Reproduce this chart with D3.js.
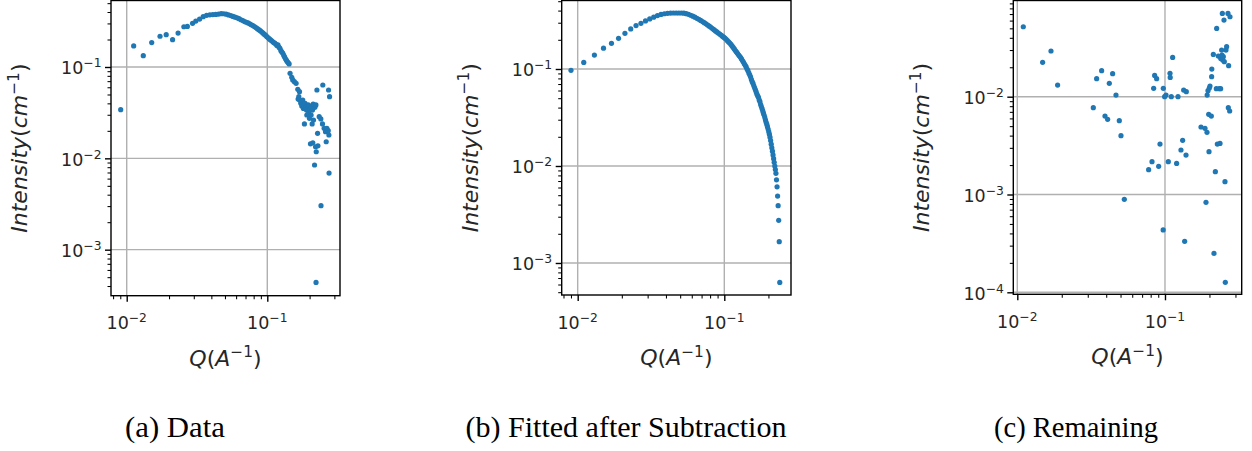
<!DOCTYPE html>
<html>
<head>
<meta charset="utf-8">
<script src="https://cdn.jsdelivr.net/npm/d3@7"></script>
<style>
  html, body { margin: 0; padding: 0; background: #ffffff; }
  svg { display: block; }
</style>
</head>
<body>
<svg id="fig" width="1252" height="451"></svg>
<script>
// ---------- (a) measured data ----------
const qData = [
  0.00906, 0.01121, 0.01312, 0.01506, 0.01726, 0.0191, 0.0212, 0.0232, 0.0255, 0.0270, 0.0294,
  0.031, 0.033, 0.035, 0.037, 0.039, 0.041, 0.043, 0.045, 0.047, 0.049,
  0.051, 0.053, 0.055, 0.057, 0.059, 0.061, 0.063, 0.065, 0.067, 0.069,
  0.071, 0.073, 0.075, 0.077, 0.079, 0.081, 0.083, 0.085, 0.087, 0.089,
  0.091, 0.093, 0.095, 0.097, 0.099, 0.101, 0.103, 0.105, 0.107, 0.109,
  0.111, 0.113, 0.115, 0.117, 0.119, 0.121, 0.123, 0.125, 0.127, 0.129,
  0.131, 0.133, 0.135, 0.137, 0.139, 0.141, 0.143,
  0.1452, 0.1493, 0.1517, 0.1559, 0.1603, 0.1648, 0.1657, 0.1676, 0.1694, 0.1700,
  0.1731, 0.1745, 0.1759, 0.1787, 0.1806, 0.1827, 0.1837, 0.1858, 0.1879, 0.1900,
  0.1910, 0.1931, 0.1958, 0.1968, 0.1986, 0.1995, 0.2016, 0.2028, 0.2040, 0.2050,
  0.2062, 0.2085, 0.2096, 0.2108, 0.2120, 0.2132, 0.2156, 0.2168, 0.2180, 0.2205,
  0.2218, 0.2222, 0.2230, 0.2254, 0.2279, 0.2291, 0.2340, 0.2404, 0.2410, 0.2469,
  0.2483, 0.2538, 0.2596, 0.2625, 0.2654, 0.2713, 0.2728, 0.2743, 0.2750, 0.2774
];
const iData = [
  0.0341, 0.170, 0.133, 0.185, 0.217, 0.226, 0.199, 0.235, 0.276, 0.278, 0.301,
  0.318, 0.335, 0.356, 0.368, 0.373, 0.375, 0.376, 0.380, 0.384, 0.383,
  0.379, 0.372, 0.366, 0.358, 0.351, 0.345, 0.338, 0.329, 0.322, 0.314,
  0.309, 0.304, 0.297, 0.290, 0.284, 0.277, 0.270, 0.263, 0.256, 0.250,
  0.243, 0.236, 0.229, 0.223, 0.216, 0.210, 0.204, 0.199, 0.195, 0.190,
  0.185, 0.183, 0.178, 0.172, 0.175, 0.165, 0.160, 0.151, 0.146, 0.141,
  0.134, 0.128, 0.122, 0.118, 0.114, 0.111, 0.108,
  0.0853, 0.0771, 0.0721, 0.0691, 0.0663, 0.0569, 0.0446, 0.0473, 0.0537, 0.0435,
  0.0400, 0.0417, 0.0374, 0.0435, 0.0352, 0.0374, 0.0238, 0.0400, 0.0362, 0.0338,
  0.0298, 0.0347, 0.0384, 0.0311, 0.0374, 0.0274, 0.0338, 0.0144, 0.0352, 0.0298,
  0.0368, 0.0238, 0.0338, 0.0148, 0.0393, 0.0263, 0.0374, 0.00845, 0.0362, 0.0134,
  0.0384, 0.000438, 0.0118, 0.0560, 0.0188, 0.0137, 0.0286, 0.0270, 0.00303, 0.0238,
  0.0635, 0.0213, 0.0196, 0.0152, 0.0213, 0.0201, 0.0560, 0.0180, 0.00690, 0.0473
];

// ---------- (b) fitted curve after subtraction ----------
const qFit = [
  0.009, 0.011, 0.013, 0.015, 0.017, 0.019, 0.021, 0.023, 0.025, 0.027,
  0.029, 0.031, 0.033, 0.035, 0.037, 0.039, 0.041, 0.043, 0.045, 0.047,
  0.049, 0.051, 0.053, 0.055, 0.057, 0.059, 0.061, 0.063, 0.065, 0.067,
  0.069, 0.071, 0.073, 0.075, 0.077, 0.079, 0.081, 0.083, 0.085, 0.087,
  0.089, 0.091, 0.093, 0.095, 0.097, 0.099, 0.101, 0.103, 0.105, 0.107,
  0.109, 0.111, 0.113, 0.115, 0.117, 0.119, 0.121, 0.123, 0.125, 0.127,
  0.129, 0.131, 0.133, 0.135, 0.137, 0.139, 0.141, 0.143, 0.145, 0.147,
  0.149, 0.151, 0.153, 0.155, 0.157, 0.159, 0.161, 0.163, 0.165, 0.167,
  0.169, 0.171, 0.173, 0.175, 0.177, 0.179, 0.181, 0.183, 0.185, 0.187,
  0.189, 0.191, 0.193, 0.195, 0.197, 0.199, 0.201, 0.203, 0.205, 0.207,
  0.209, 0.211, 0.213, 0.215, 0.217, 0.219, 0.221, 0.223, 0.225, 0.227,
  0.229, 0.231, 0.233, 0.235, 0.237, 0.239
];
const iFit = [
  0.097, 0.117, 0.139, 0.164, 0.184, 0.207, 0.233, 0.259, 0.280, 0.296,
  0.313, 0.328, 0.342, 0.355, 0.365, 0.371, 0.375, 0.377, 0.378, 0.378,
  0.378, 0.378, 0.376, 0.372, 0.366, 0.358, 0.350, 0.342, 0.333, 0.325,
  0.317, 0.308, 0.300, 0.292, 0.284, 0.276, 0.269, 0.261, 0.254, 0.247,
  0.241, 0.235, 0.229, 0.224, 0.218, 0.213, 0.208, 0.202, 0.196, 0.190,
  0.185, 0.179, 0.173, 0.167, 0.161, 0.155, 0.150, 0.145, 0.140, 0.136,
  0.132, 0.127, 0.122, 0.118, 0.113, 0.109, 0.105, 0.100, 0.096, 0.091,
  0.087, 0.083, 0.078, 0.074, 0.071, 0.067, 0.064, 0.061, 0.058, 0.055,
  0.053, 0.051, 0.048, 0.046, 0.043, 0.041, 0.039, 0.037, 0.035, 0.0333,
  0.0315, 0.0298, 0.0282, 0.0268, 0.0254, 0.0240, 0.0226, 0.0213, 0.0198, 0.0183,
  0.0168, 0.0154, 0.0142, 0.0130, 0.0119, 0.0109, 0.0100, 0.0092, 0.0084, 0.0072,
  0.0061, 0.0049, 0.0039, 0.00275, 0.00166, 0.00063
];

// ---------- (c) remaining (positive residuals only) ----------
const qRes = [
  0.01098, 0.01484, 0.01691, 0.01875, 0.03271, 0.03446, 0.03725, 0.03925, 0.04090, 0.04198,
  0.04421, 0.04658, 0.04905, 0.05035, 0.05304, 0.07752, 0.08166, 0.08381, 0.08511, 0.08782,
  0.09061, 0.09251, 0.09743, 0.0972, 0.09947, 0.1016, 0.1053, 0.1081, 0.1085, 0.1104,
  0.1127, 0.1199, 0.1225, 0.1283, 0.1317, 0.1338, 0.1359, 0.1388, 0.1395, 0.1753,
  0.1866, 0.1895, 0.1925, 0.1930, 0.1955, 0.1986, 0.1996, 0.2017, 0.1976, 0.2060,
  0.2070, 0.2075, 0.2125, 0.2147, 0.2193, 0.2227, 0.2239, 0.2262, 0.2297, 0.2333,
  0.2358, 0.2382, 0.2385, 0.2419, 0.2432, 0.2445, 0.2458, 0.2483, 0.2509, 0.2522,
  0.2548, 0.2562, 0.2588, 0.2615, 0.2670, 0.2684, 0.2698, 0.2741, 0.2755
];
const iRes = [
  0.0519, 0.02244, 0.02932, 0.01316, 0.00772, 0.01528, 0.01844, 0.00634, 0.00587, 0.01369,
  0.01718, 0.0104, 0.00568, 0.00399, 0.000893, 0.001794, 0.002166, 0.01217, 0.01652, 0.01528,
  0.00194, 0.00328, 0.01217, 0.000434, 0.0100, 0.0104, 0.002166, 0.01732, 0.01576, 0.0100,
  0.02523, 0.00208, 0.0100, 0.00285, 0.00358, 0.0117, 0.000332, 0.00253, 0.01125, 0.0049,
  0.00475, 0.000832, 0.00432, 0.0104, 0.01151, 0.00274, 0.01227, 0.01286, 0.0066, 0.00634,
  0.01601, 0.01918, 0.02708, 0.000250, 0.001712, 0.01207, 0.04995, 0.00328, 0.02604, 0.01207,
  0.00333, 0.01207, 0.02465, 0.02999, 0.02667, 0.0711, 0.02370, 0.02564, 0.06075, 0.02279,
  0.001353, 0.0001266, 0.02999, 0.03244, 0.0711, 0.00772, 0.02074, 0.00714, 0.0657
];

// ---------- axis limits and labelled decades ----------
const xLimA = [0.007731, 0.3290], yLimA = [3.134e-4, 0.5346];
const xLimB = [0.007779, 0.2851], yLimB = [4.677e-4, 0.5083];
const xLimC = [0.009395, 0.3307], yLimC = [9.541e-5, 0.09629];
const xMajorExp = [-2, -1];
const yMajorExpAB = [-3, -2, -1];
const yMajorExpC = [-4, -3, -2];
const captions = ["(a) Data", "(b) Fitted after Subtraction", "(c) Remaining"];

// ---------- layout ----------
const panels = [
  { q: qData, I: iData, xLim: xLimA, yLim: yLimA, yExp: yMajorExpAB,
    box: { l: 111, r: 340, t: 0.5, b: 295.7 }, cap: captions[0], capX: 175, capW: 100 },
  { q: qFit, I: iFit, xLim: xLimB, yLim: yLimB, yExp: yMajorExpAB,
    box: { l: 561.7, r: 791, t: 0.5, b: 295 }, cap: captions[1], capX: 626, capW: 321 },
  { q: qRes, I: iRes, xLim: xLimC, yLim: yLimC, yExp: yMajorExpC,
    box: { l: 1013.3, r: 1241.7, t: 0.5, b: 294.3 }, cap: captions[2], capX: 1076, capW: 164 }
];

const BLUE = "#1f77b4";
const GRID = "#b0b0b0";
const svg = d3.select("#fig");

function powerLabel(sel, exp) {
  sel.append("tspan").text("10");
  sel.append("tspan").attr("dy", -7).attr("font-size", "12.3px").text("\u2212" + Math.abs(exp));
}

panels.forEach(p => {
  const { l, r, t, b } = p.box;
  const x = d3.scaleLog().domain(p.xLim).range([l, r]);
  const y = d3.scaleLog().domain(p.yLim).range([b, t]);

  const isMajor = v => Math.abs(Math.log10(v) - Math.round(Math.log10(v))) < 1e-9;
  const xAll = x.ticks().filter(v => v >= p.xLim[0] && v <= p.xLim[1]);
  const yAll = y.ticks().filter(v => v >= p.yLim[0] && v <= p.yLim[1]);
  const xMaj = xAll.filter(isMajor), xMin = xAll.filter(v => !isMajor(v));
  const yMaj = yAll.filter(isMajor), yMin = yAll.filter(v => !isMajor(v));

  const g = svg.append("g");

  // grid at the labelled decades
  g.append("g").selectAll("line.gx").data(xMaj).join("line")
    .attr("x1", d => x(d)).attr("x2", d => x(d)).attr("y1", t).attr("y2", b)
    .attr("stroke", GRID).attr("stroke-width", 1.4);
  g.append("g").selectAll("line.gy").data(yMaj).join("line")
    .attr("x1", l).attr("x2", r).attr("y1", d => y(d)).attr("y2", d => y(d))
    .attr("stroke", GRID).attr("stroke-width", 1.4);

  // scatter points
  const pts = p.q.map((qv, i) => ({ q: qv, I: p.I[i] }));
  g.append("g").selectAll("circle").data(pts).join("circle")
    .attr("cx", d => x(d.q)).attr("cy", d => y(d.I)).attr("r", 2.6)
    .attr("fill", BLUE);

  // ticks via d3 axes
  const tickStyle = (sel, w) => {
    sel.select(".domain").remove();
    sel.selectAll(".tick line").attr("stroke", "#000").attr("stroke-width", w);
    sel.selectAll(".tick text").remove();
  };
  g.append("g").attr("transform", `translate(0,${b})`)
    .call(d3.axisBottom(x).tickValues(xMin).tickSize(3.5).tickFormat(""))
    .call(s => tickStyle(s, 1.05));
  g.append("g").attr("transform", `translate(0,${b})`)
    .call(d3.axisBottom(x).tickValues(xMaj).tickSize(6).tickFormat(""))
    .call(s => tickStyle(s, 1.4));
  g.append("g").attr("transform", `translate(${l},0)`)
    .call(d3.axisLeft(y).tickValues(yMin).tickSize(3.5).tickFormat(""))
    .call(s => tickStyle(s, 1.05));
  g.append("g").attr("transform", `translate(${l},0)`)
    .call(d3.axisLeft(y).tickValues(yMaj).tickSize(6).tickFormat(""))
    .call(s => tickStyle(s, 1.4));

  // spines
  g.append("rect").attr("x", l).attr("y", t).attr("width", r - l).attr("height", b - t)
    .attr("fill", "none").attr("stroke", "#000").attr("stroke-width", 1.4);

  // tick labels
  const font = "DejaVu Sans, sans-serif";
  xMajorExp.forEach(e => {
    const tx = g.append("text").attr("x", x(Math.pow(10, e))).attr("y", b + 33.6)
      .attr("text-anchor", "middle").attr("font-family", font).attr("font-size", "17.5px")
      .attr("fill", "#262626");
    powerLabel(tx, e);
  });
  p.yExp.forEach(e => {
    const ty = g.append("text").attr("x", l - 9.5).attr("y", y(Math.pow(10, e)) + 7.5)
      .attr("text-anchor", "end").attr("font-family", font).attr("font-size", "17.5px")
      .attr("fill", "#262626");
    powerLabel(ty, e);
  });

  // axis titles
  const xt = g.append("text").attr("x", (l + r) / 2).attr("y", b + 70)
    .attr("text-anchor", "middle").attr("font-family", font).attr("font-size", "22px")
    .attr("fill", "#262626");
  xt.append("tspan").attr("font-style", "italic").text("Q");
  xt.append("tspan").text("(");
  xt.append("tspan").attr("font-style", "italic").text("A");
  xt.append("tspan").attr("dy", -8.5).attr("font-size", "15.4px").text("\u22121");
  xt.append("tspan").attr("dy", 8.5).text(")");

  const yt = g.append("text")
    .attr("transform", `translate(${l - 84},${(t + b) / 2}) rotate(-90)`)
    .attr("text-anchor", "middle").attr("font-family", font).attr("font-size", "22px")
    .attr("fill", "#262626");
  yt.append("tspan").attr("font-style", "italic").text("Intensity");
  yt.append("tspan").text("(");
  yt.append("tspan").attr("font-style", "italic").text("cm");
  yt.append("tspan").attr("dy", -8.5).attr("font-size", "15.4px").text("\u22121");
  yt.append("tspan").attr("dy", 8.5).text(")");

  // sub-figure caption
  svg.append("text").attr("x", p.capX).attr("y", 437)
    .attr("text-anchor", "middle").attr("font-family", "Liberation Serif, serif")
    .attr("font-size", "28.5px").attr("fill", "#000")
    .attr("textLength", p.capW).attr("lengthAdjust", "spacingAndGlyphs")
    .text(p.cap);
});
</script>
</body>
</html>
